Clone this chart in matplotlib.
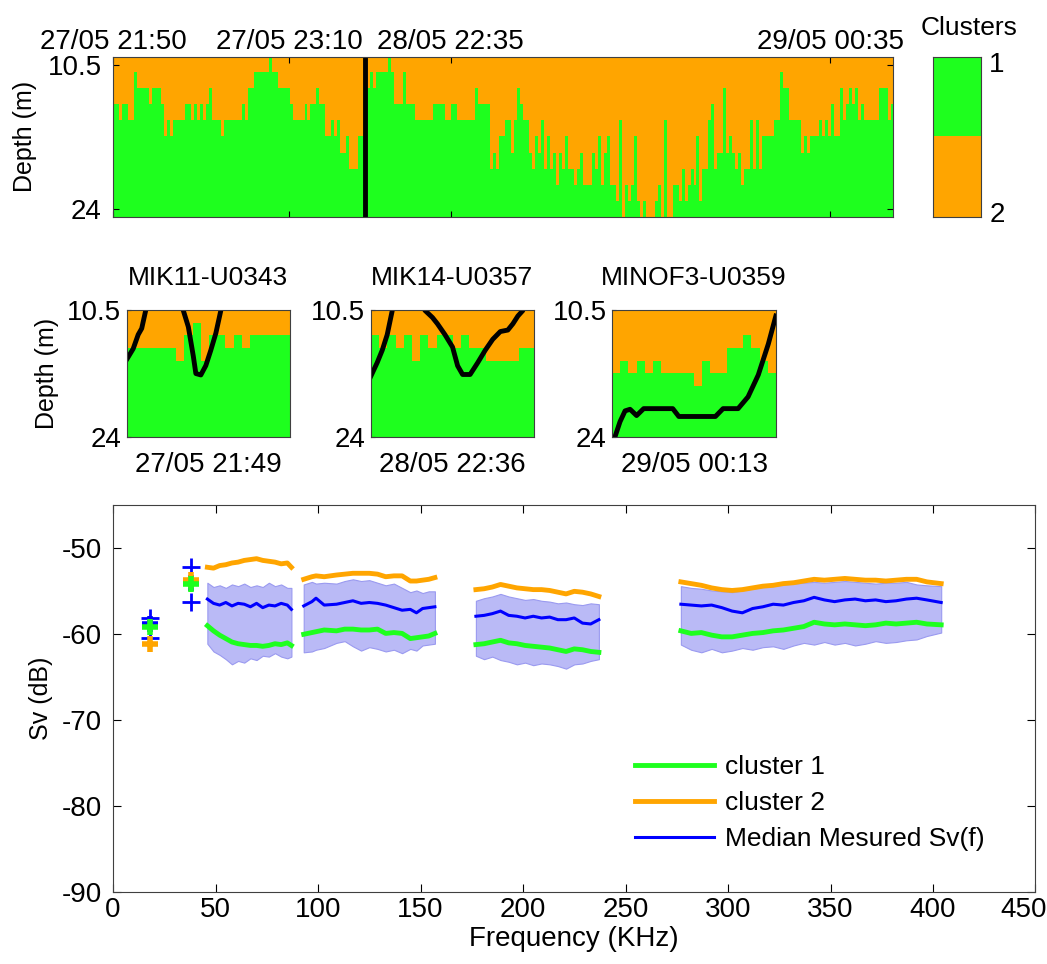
import numpy as np
import matplotlib
matplotlib.use("Agg")
from matplotlib import pyplot as plt
from matplotlib.colors import ListedColormap
from matplotlib.transforms import ScaledTranslation

plt.rcParams['font.family'] = ['Liberation Sans', 'DejaVu Sans']
plt.rcParams['axes.unicode_minus'] = False

GREEN = '#1eff1e'
ORANGE = '#ffa500'
BLUE = '#0000ff'
cmap = ListedColormap([GREEN, ORANGE])

# ---- top echogram: 10 depth rows, 260 time columns ----
depth_rows = [10.5, 12, 13.5, 15, 16.5, 18, 19.5, 21, 22.5, 24]
# (number of columns, number of cluster-2 rows from the surface)
map_runs = [(5, 3), (1, 4), (2, 1), (8, 2), (2, 5), (6, 4), (9, 3), (2, 4), (2, 5),
            (8, 4), (2, 2), (8, 1), (4, 2), (7, 4), (5, 3), (5, 5), (2, 6), (1, 5),
            (3, 7), (2, 5),
            (5, 2), (5, 1), (7, 3), (6, 4), (3, 3), (3, 4), (2, 3), (4, 4),
            (2, 4), (4, 3), (2, 5), (2, 6), (2, 5), (7, 4), (8, 6), (7, 6), (5, 7),
            (2, 8), (6, 6), (8, 8), (2, 9), (7, 8), (4, 9), (10, 8), (5, 7), (9, 6),
            (6, 7), (4, 5), (3, 4), (2, 2), (5, 4), (12, 5), (6, 3), (7, 4), (5, 3)]
# single columns that differ from their neighbours
map_stripes = [(2, 4), (6, 4), (7, 1), (12, 3), (16, 3), (19, 5), (26, 4), (28, 4), (30, 4),
               (32, 2), (35, 4), (41, 4), (43, 3), (45, 2), (47, 1), (52, 0), (57, 2),
               (59, 3), (61, 4), (64, 3), (68, 2), (73, 4), (75, 4),
               (86, 1), (88, 1), (92, 0), (97, 1), (110, 3), (121, 2), (123, 3), (125, 3),
               (126, 7), (128, 7), (133, 6), (135, 2), (136, 3), (138, 4), (140, 7),
               (141, 5), (143, 4), (144, 7), (145, 5), (146, 7), (148, 8), (149, 6),
               (150, 7), (151, 5), (152, 7), (154, 8), (156, 6), (157, 8), (161, 7),
               (162, 5), (163, 8), (165, 5), (167, 8), (168, 9), (169, 4), (170, 10),
               (172, 9), (174, 5), (176, 10), (177, 9), (178, 10), (179, 10), (180, 10),
               (181, 9), (183, 10), (184, 4), (185, 10), (186, 10), (189, 9), (190, 7),
               (191, 9), (193, 7), (195, 5), (196, 9), (199, 4), (200, 3), (204, 2),
               (206, 5), (208, 7), (210, 8), (212, 7), (213, 4), (215, 4), (223, 1),
               (228, 4), (230, 6), (232, 6), (236, 4), (238, 4), (240, 3), (243, 2),
               (244, 4), (246, 2), (248, 2), (250, 3), (252, 4), (256, 2), (257, 2),
               (258, 2), (259, 4)]
time_ticks = [0, 59, 113, 240]
time_labels = ['27/05 21:50', '27/05 23:10', '28/05 22:35', '29/05 00:35']
day_break = 84.3

# ---- three small echograms (20 columns x 10 rows each) ----
panel_titles = ['MIK11-U0343', 'MIK14-U0357', 'MINOF3-U0359']
panel_times = ['27/05 21:49', '28/05 22:36', '29/05 00:13']
panel_bounds = [
    [3, 3, 3, 3, 3, 3, 4, 2, 1, 4, 2, 2, 3, 2, 3, 2, 2, 2, 2, 2],
    [2, 3, 2, 3, 2, 4, 2, 3, 2, 2, 3, 2, 3, 3, 4, 4, 4, 4, 3, 3],
    [5, 4, 5, 4, 5, 4, 5, 5, 5, 5, 6, 4, 5, 5, 3, 3, 2, 3, 4, 5],
]
track_x = [
    [0, 0.8, 1.41, 1.84, 2.33, 2.6, 6.7, 6.93, 7.55, 8.16, 8.47, 9.08, 9.69, 10.3, 10.92, 11.53, 11.8],
    [0, 0.8, 1.42, 2.03, 2.65, 2.9, 6.4, 6.65, 7.57, 8.18, 9.1, 10.03, 10.65, 11.26, 12.18, 13.11,
     14.03, 14.95, 15.88, 16.8, 17.42, 18.03, 18.65, 18.9],
    [0.31, 0.92, 1.54, 2.15, 2.95, 3.82, 7.38, 8.12, 12.6, 13.54, 15.38, 16.6, 17.85, 19.08, 20],
]
track_d = [
    [15.75, 14.59, 13.09, 12.43, 10.5, 9.0, 9.0, 10.5, 12.26, 15.4, 17.25, 17.4, 16.4, 14.76, 12.93, 10.5, 9.0],
    [17.58, 16.09, 14.76, 13.09, 10.5, 9.0, 9.0, 10.5, 11.26, 11.93, 13.09, 14.42, 16.42, 17.35, 17.35,
     16.09, 14.76, 13.59, 12.76, 12.6, 11.93, 11.1, 10.5, 9.0],
    [24, 22.4, 21.24, 21.07, 21.74, 21.0, 21.0, 21.84, 21.84, 21.0, 21.0, 19.74, 17.4, 14.09, 11.1],
]

# ---- Sv(f) spectra, four frequency bands ----
seg_f = [
    [46, 49, 52, 55, 58, 61, 64, 67, 70, 73, 76, 79, 82, 85, 87],
    [93, 97, 99, 103, 109, 113, 117, 121, 125, 129, 133, 137, 141, 145, 148, 151, 154, 157],
    [177, 181, 185, 189, 193, 197, 201, 205, 209, 213, 217, 221, 225, 229, 233, 237],
    [277, 282, 287, 292, 297, 302, 307, 312, 317, 322, 327, 332, 337, 342, 347, 352, 357,
     362, 367, 372, 377, 382, 387, 392, 397, 404],
]
seg_c2 = [
    [-52.2, -52.3, -52.0, -51.9, -51.7, -51.6, -51.4, -51.3, -51.2, -51.4, -51.5, -51.6, -51.8, -51.7, -52.2],
    [-53.6, -53.3, -53.2, -53.3, -53.1, -53.0, -52.9, -52.9, -52.9, -53.0, -53.3, -53.2, -53.2, -53.8,
     -53.8, -53.7, -53.6, -53.4],
    [-54.8, -54.7, -54.5, -54.2, -54.4, -54.6, -54.7, -54.8, -54.8, -54.9, -55.1, -55.3, -55.0, -55.1, -55.3, -55.6],
    [-53.9, -54.1, -54.3, -54.6, -54.8, -54.9, -54.8, -54.6, -54.4, -54.3, -54.1, -54.0, -53.8, -53.6,
     -53.7, -53.6, -53.5, -53.6, -53.7, -53.7, -53.8, -53.7, -53.6, -53.6, -53.9, -54.1],
]
seg_med = [
    [-55.9, -56.4, -56.6, -56.3, -56.7, -56.4, -56.5, -56.8, -56.4, -56.9, -56.6, -56.7, -56.4, -56.6, -57.1],
    [-56.7, -56.2, -55.8, -56.6, -56.5, -56.3, -56.1, -56.4, -56.3, -56.4, -56.6, -56.9, -57.2, -57.1,
     -57.5, -57.0, -56.9, -56.8],
    [-57.9, -57.8, -57.6, -57.3, -57.8, -57.9, -58.1, -57.9, -58.1, -58.0, -58.3, -58.3, -58.1, -58.7, -58.8, -58.3],
    [-56.5, -56.6, -56.7, -56.6, -56.9, -57.3, -57.5, -57.0, -56.8, -56.5, -56.6, -56.3, -56.1, -55.7,
     -56.0, -56.2, -56.0, -55.9, -56.1, -56.0, -56.2, -56.1, -55.9, -55.8, -56.0, -56.3],
]
seg_c1 = [
    [-59.0, -59.6, -60.1, -60.5, -60.9, -61.1, -61.2, -61.3, -61.3, -61.4, -61.3, -61.1, -61.2, -61.0, -61.3],
    [-60.0, -59.8, -59.7, -59.5, -59.6, -59.4, -59.4, -59.5, -59.5, -59.4, -59.9, -59.8, -59.9, -60.5,
     -60.4, -60.3, -60.2, -59.9],
    [-61.2, -61.1, -60.9, -60.7, -61.0, -61.1, -61.3, -61.4, -61.5, -61.6, -61.8, -62.0, -61.7, -61.8, -62.0, -62.1],
    [-59.6, -59.9, -59.8, -60.1, -60.3, -60.3, -60.1, -59.9, -59.8, -59.6, -59.5, -59.3, -59.1, -58.6,
     -58.8, -58.9, -58.8, -58.9, -59.0, -58.9, -58.7, -58.8, -58.7, -58.6, -58.8, -58.9],
]
seg_hi = [
    [-54.0, -54.5, -54.3, -54.6, -54.2, -54.4, -54.1, -54.5, -54.3, -54.5, -54.0, -54.4, -54.2, -54.6, -54.6],
    [-54.2, -53.9, -54.1, -54.0, -54.1, -53.8, -53.6, -53.8, -53.7, -54.0, -54.3, -54.1, -54.6, -55.1,
     -54.9, -55.2, -55.0, -55.0],
    [-56.1, -55.8, -55.6, -55.3, -55.6, -55.8, -56.0, -55.9, -56.1, -56.2, -56.4, -56.3, -56.5, -56.6, -56.4, -56.5],
    [-54.4, -54.6, -54.7, -54.9, -55.0, -55.1, -54.9, -54.7, -54.5, -54.4, -54.2, -54.1, -54.0, -53.9,
     -54.0, -53.9, -53.8, -53.9, -54.0, -54.1, -54.0, -54.0, -53.9, -54.2, -54.3, -54.4],
]
seg_lo = [
    [-61.1, -62.0, -62.4, -62.9, -63.5, -63.1, -63.3, -62.8, -63.0, -62.5, -62.6, -62.2, -62.6, -62.8, -62.6],
    [-62.1, -62.0, -61.8, -61.6, -61.0, -60.8, -61.4, -61.9, -61.5, -61.7, -62.0, -61.8, -62.2, -61.7,
     -61.9, -61.3, -61.2, -61.1],
    [-62.5, -62.9, -62.6, -63.0, -63.2, -63.5, -63.3, -63.6, -63.4, -63.5, -63.7, -64.0, -63.5, -63.4, -63.1, -62.9],
    [-61.2, -61.8, -62.1, -61.7, -62.1, -61.9, -61.6, -61.8, -61.5, -61.4, -61.7, -61.3, -61.0, -61.2,
     -60.9, -61.2, -61.0, -61.3, -61.1, -60.8, -61.0, -60.9, -60.7, -60.6, -60.2, -59.8],
]
# single-frequency values (18 and 38 kHz)
cw_f = [18, 38]
cw_c1 = [-59.2, -54.2]
cw_c2 = [-61.1, -53.7]
cw_med = [-58.8, -54.0]
cw_hi = [-58.1, -52.2]
cw_lo = [-60.4, -56.2]

FS = 20
fig = plt.figure(figsize=(10.47, 9.64), dpi=100)

# top map
bound = []
for n, b in map_runs:
    bound += [b] * n
for c, b in map_stripes:
    bound[c] = b
ncol = len(bound)
grid = np.array([[2 if r < bound[c] else 1 for c in range(ncol)] for r in range(len(depth_rows))])

ax = fig.add_axes([0.108, 0.775, 0.745, 0.166])
ax.imshow(grid, cmap=cmap, vmin=1, vmax=2, aspect='auto', interpolation='nearest',
          extent=[0, ncol, depth_rows[-1] + 0.75, depth_rows[0] - 0.75])
ax.axvline(day_break, color='black', lw=3.5)
ax.set_xlim(0, ncol)
ax.set_xticks(time_ticks)
ax.set_xticklabels(time_labels, fontsize=FS)
ax.set_yticks([10.5, 24])
ax.set_yticklabels(['10.5', '24'], fontsize=FS)
ax.tick_params(direction='in', top=True, bottom=True, labeltop=True, labelbottom=False,
               right=True, length=4, pad=1)
ax.tick_params(axis='y', pad=8)
ax.set_ylabel('Depth (m)', fontsize=18, labelpad=8)

# colorbar
cax = fig.add_axes([0.891, 0.775, 0.046, 0.166])
cax.imshow([[1], [2]], cmap=cmap, vmin=1, vmax=2, aspect='auto', extent=[0, 1, 2, 0])
cax.set_xticks([])
cax.yaxis.tick_right()
cax.set_yticks([0.06, 1.94])
cax.set_yticklabels(['1', '2'], fontsize=FS)
cax.tick_params(length=0, pad=6)
cax.set_title('Clusters', fontsize=19, pad=16, x=0.75)

# small panels
lefts = [0.121, 0.354, 0.585]
for i in range(3):
    pax = fig.add_axes([lefts[i], 0.547, 0.156, 0.131])
    pg = np.array([[2 if r < b else 1 for b in panel_bounds[i]] for r in range(10)])
    pax.imshow(pg, cmap=cmap, vmin=1, vmax=2, aspect='auto', interpolation='nearest',
               extent=[0, 20, 24, 10.5])
    pax.plot(track_x[i], track_d[i], color='black', lw=3.5, clip_on=True)
    pax.set_xlim(0, 20)
    pax.set_ylim(24, 10.5)
    pax.set_xticks([])
    pax.set_yticks([10.5, 24])
    pax.set_yticklabels(['10.5', '24'], fontsize=FS)
    pax.tick_params(direction='in', length=3, pad=4)
    pax.set_title(panel_titles[i], fontsize=19, pad=18)
    pax.set_xlabel(panel_times[i], fontsize=FS, labelpad=11)
    if i == 0:
        pax.set_ylabel('Depth (m)', fontsize=18, labelpad=6)

# spectra
bx = fig.add_axes([0.108, 0.0747, 0.881, 0.401])
for k in range(4):
    bx.fill_between(seg_f[k], seg_lo[k], seg_hi[k], facecolor='#babaf6', edgecolor='#9a9af0', lw=0.8)
for k in range(4):
    bx.plot(seg_f[k], seg_med[k], color=BLUE, lw=2.2, label='Median Mesured Sv(f)' if k == 0 else None)
    bx.plot(seg_f[k], seg_c1[k], color=GREEN, lw=3.5, label='cluster 1' if k == 0 else None)
    bx.plot(seg_f[k], seg_c2[k], color=ORANGE, lw=3.5, label='cluster 2' if k == 0 else None)
bx.plot(cw_f, cw_hi, '+', color=BLUE, ms=13, mew=2)
bx.plot(cw_f, cw_lo, '+', color=BLUE, ms=13, mew=2)
bx.plot(cw_f, cw_med, '+', color=BLUE, ms=11, mew=4)
bx.plot(cw_f, cw_c2, '+', color=ORANGE, ms=11, mew=4)
bx.plot(cw_f, cw_c1, '+', color=GREEN, ms=11, mew=4)
bx.set_xlim(0, 450)
bx.set_ylim(-90, -45)
bx.set_xticks(range(0, 451, 50))
bx.set_yticks(range(-90, -49, 10))
bx.tick_params(direction='in', top=True, right=True, labelsize=FS, length=6)
bx.tick_params(axis='y', pad=8)
last = bx.get_xticklabels()[-1]
last.set_transform(last.get_transform() + ScaledTranslation(-0.12, 0, fig.dpi_scale_trans))
bx.set_xlabel('Frequency (KHz)', fontsize=FS, labelpad=2)
bx.set_ylabel('Sv (dB)', fontsize=18, labelpad=6)
h, l = bx.get_legend_handles_labels()
order = [l.index('cluster 1'), l.index('cluster 2'), l.index('Median Mesured Sv(f)')]
bx.legend([h[j] for j in order], [l[j] for j in order], loc='lower left',
          bbox_to_anchor=(0.54, 0.045), frameon=False, fontsize=19, handlelength=3.0,
          labelspacing=0.45, handletextpad=0.4)

for a in fig.axes:
    for s in a.spines.values():
        s.set_color('#404040')

fig.savefig('out.png', dpi=100)
